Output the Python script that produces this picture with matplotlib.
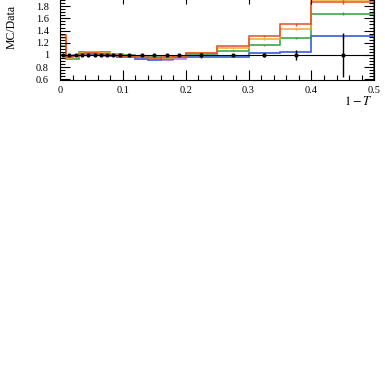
import matplotlib.pyplot as plt
import matplotlib.ticker as ticker
import numpy as np

plt.rcParams['font.family'] = ['Liberation Serif', 'DejaVu Serif']
plt.rcParams['mathtext.fontset'] = 'stix'

# 1-T bin edges
edges = [0.0, 0.01, 0.02, 0.03, 0.04, 0.05, 0.06, 0.07, 0.08, 0.09, 0.10,
         0.12, 0.14, 0.16, 0.18, 0.20, 0.25, 0.30, 0.35, 0.40, 0.50]

# MC / data ratios per generator
red = [1.32, 0.96, 0.98, 1.02, 1.03, 1.03, 1.02, 1.01, 1.00, 0.99,
       0.98, 0.96, 0.95, 0.96, 0.98, 1.04, 1.15, 1.31, 1.50, 1.87]
orange = [1.28, 0.95, 0.98, 1.04, 1.05, 1.05, 1.04, 1.03, 1.01, 1.00,
          0.99, 0.97, 0.95, 0.95, 0.98, 1.035, 1.11, 1.26, 1.43, 1.90]
green = [1.15, 0.93, 0.93, 1.03, 1.05, 1.05, 1.05, 1.05, 1.02, 1.01,
         1.00, 0.98, 0.96, 0.95, 0.97, 1.02, 1.07, 1.16, 1.28, 1.68]
purple = [1.00, 0.97, 0.99, 1.03, 1.02, 1.01, 1.00, 0.99, 0.98, 0.97,
          0.96, 0.94, 0.92, 0.92, 0.94, 0.96, 0.97, 1.03, 1.045, 1.31]
blue = [1.00, 0.98, 1.00, 1.05, 1.03, 1.02, 1.01, 1.00, 0.99, 0.97,
        0.96, 0.93, 0.92, 0.94, 0.96, 0.96, 0.97, 1.03, 1.045, 1.31]

# statistical errors on the MC ratios (last bins only visible)
mc_err = [0.0, 0.0, 0.0, 0.0, 0.0, 0.0, 0.0, 0.0, 0.0, 0.0,
          0.0, 0.0, 0.0, 0.0, 0.0, 0.005, 0.01, 0.01, 0.02, 0.03]

# data ratio and its relative uncertainty
data = [1.0] * 20
data_err = [0.02, 0.015, 0.012, 0.01, 0.01, 0.01, 0.01, 0.01, 0.01, 0.01,
            0.01, 0.01, 0.012, 0.012, 0.015, 0.03, 0.02, 0.03, 0.08, 0.36]

edges = np.array(edges)
centers = 0.5 * (edges[1:] + edges[:-1])

fig = plt.figure(figsize=(3.85, 3.91), dpi=100)
ax = fig.add_axes([0.156, 0.7954, 0.816, 0.22])

series = [(purple, '#b070d8'), (blue, '#3a6fd8'), (green, '#2e9e3a'),
          (orange, '#f0a830'), (red, '#e0502a')]
for vals, col in series:
    ax.stairs(vals, edges, color=col, linewidth=1.1)
    ax.errorbar(centers, vals, yerr=mc_err, fmt='none', ecolor=col,
                elinewidth=1.0, capsize=0)

ax.stairs(data, edges, color='black', linewidth=0.8)
ax.errorbar(centers, data, yerr=data_err, fmt='o', color='black',
            markersize=2, elinewidth=1.0, capsize=0)

ax.set_xlim(0, 0.5)
ax.set_ylim(0.59, 2.0)

ax.xaxis.set_major_locator(ticker.MultipleLocator(0.1))
ax.xaxis.set_minor_locator(ticker.MultipleLocator(0.02))
ax.yaxis.set_major_locator(ticker.FixedLocator([0.6, 0.8, 1.0, 1.2, 1.4, 1.6, 1.8]))
ax.yaxis.set_minor_locator(ticker.MultipleLocator(0.05))
ax.xaxis.set_major_formatter(ticker.FuncFormatter(lambda v, p: '0' if v == 0 else '%g' % v))
ax.yaxis.set_major_formatter(ticker.FuncFormatter(lambda v, p: '%g' % v))

ax.tick_params(which='both', direction='in', top=True, right=True, labelsize=7.5)
ax.tick_params(which='major', length=7, width=0.8)
ax.tick_params(which='minor', length=3.5, width=0.8)
ax.tick_params(axis='x', pad=4)
ax.tick_params(axis='y', pad=8)

for s in ax.spines.values():
    s.set_linewidth(0.8)

ax.set_ylabel('MC/Data', fontsize=8.5)
ax.yaxis.set_label_coords(-0.135, 0.62)
ax.set_xlabel('$1 - T$', fontsize=9)
ax.xaxis.set_label_coords(0.95, -0.17)

fig.savefig('out.png', dpi=100)
